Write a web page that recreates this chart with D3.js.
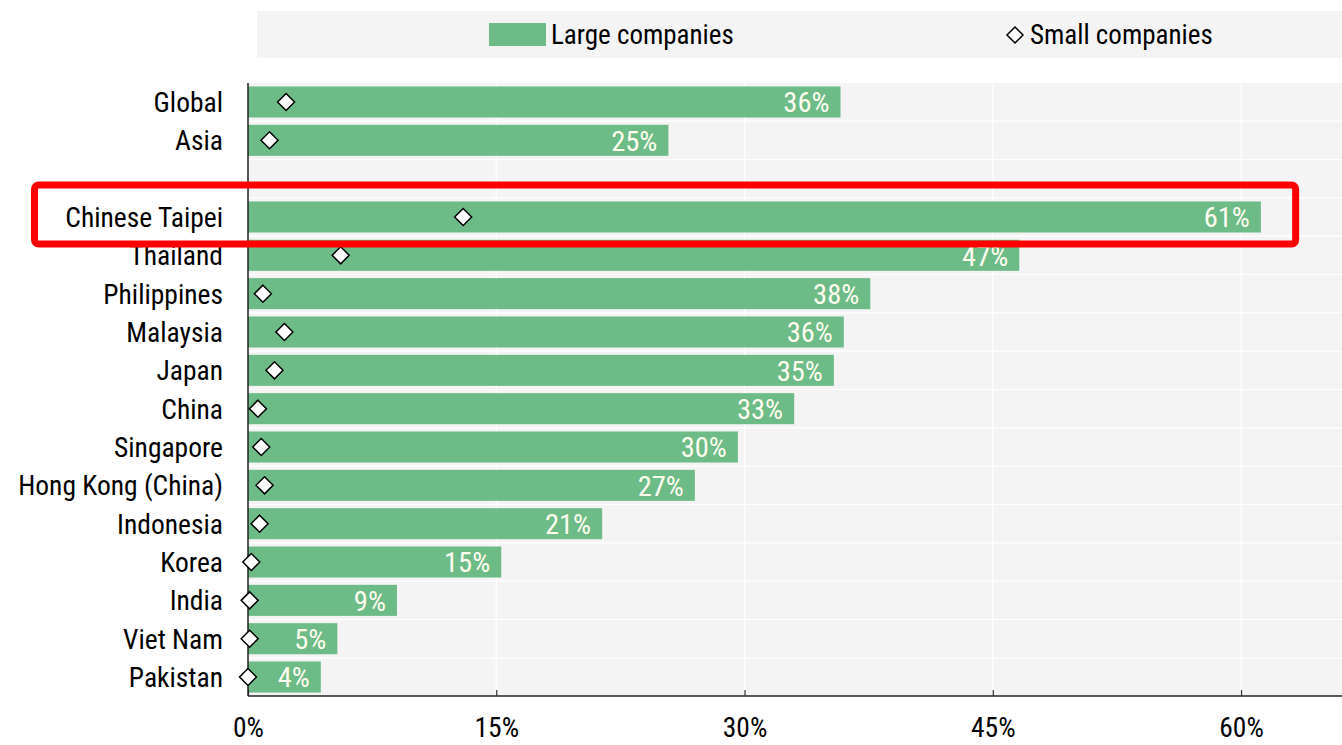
<!DOCTYPE html>
<html><head><meta charset="utf-8">
<script src="https://cdn.jsdelivr.net/npm/d3@7"></script>
<style>
html,body{margin:0;padding:0;background:#fff;}
svg{display:block;}
text{font-family:"Liberation Sans Narrow","Arial Narrow","Roboto Condensed","Liberation Sans",Arial,sans-serif;}
</style></head>
<body>
<script>
const categories = ["Global","Asia","","Chinese Taipei","Thailand","Philippines","Malaysia","Japan","China","Singapore","Hong Kong (China)","Indonesia","Korea","India","Viet Nam","Pakistan"];
const largeCompanies = [35.8,25.4,null,61.2,46.6,37.6,36.0,35.4,33.0,29.6,27.0,21.4,15.3,9.0,5.4,4.4];
const smallCompanies = [2.3,1.3,null,13.0,5.6,0.9,2.2,1.6,0.6,0.8,1.0,0.7,0.2,0.1,0.1,0.0];
const xTicks = [0,15,30,45,60];
const highlighted = "Chinese Taipei";

const W = 1342, H = 745;
const margin = {top:83, right:0, bottom:49, left:248};
const svg = d3.select("body").append("svg").attr("width",W).attr("height",H);

const x = d3.scaleLinear().domain([0, 66.1]).range([margin.left, W - margin.right]);
const y = d3.scaleBand().domain(categories.map((c,i)=>i)).range([margin.top, H - margin.bottom]).paddingInner(0.19).paddingOuter(0.09);

const green = "#6dbb87";
const fontCat = 27.5;

// legend
const lg = svg.append("g");
lg.append("rect").attr("x",257).attr("y",11).attr("width",W-257).attr("height",47).attr("fill","#f4f4f4");
lg.append("rect").attr("x",489).attr("y",23).attr("width",57).attr("height",23).attr("fill",green);
lg.append("text").attr("x",551).attr("y",35).attr("dy","0.35em").attr("font-size",27).attr("fill","#000").text("Large companies");
lg.append("path").attr("d","M1015,27 L1023,35 L1015,43 L1007,35 Z").attr("fill","#fff").attr("stroke","#000").attr("stroke-width",1.5);
lg.append("text").attr("x",1030).attr("y",35).attr("dy","0.35em").attr("font-size",27).attr("fill","#000").text("Small companies");

// plot background
svg.append("rect").attr("x",margin.left).attr("y",margin.top).attr("width",W-margin.left-margin.right).attr("height",H-margin.bottom-margin.top).attr("fill","#f4f4f4");

// gridlines
svg.append("g").selectAll("line").data(xTicks.slice(1)).join("line")
  .attr("x1",d=>x(d)).attr("x2",d=>x(d)).attr("y1",margin.top).attr("y2",H-margin.bottom)
  .attr("stroke","#fff").attr("stroke-width",1.2);
const step = y.step();
svg.append("g").selectAll("line").data(categories.map((c,i)=>i)).join("line")
  .attr("x1",margin.left).attr("x2",W)
  .attr("y1",d=>y(d)+y.bandwidth()+ (step-y.bandwidth())/2).attr("y2",d=>y(d)+y.bandwidth()+(step-y.bandwidth())/2)
  .attr("stroke","#fff").attr("stroke-width",1.2);

const rows = categories.map((c,i)=>({c,i,l:largeCompanies[i],s:smallCompanies[i]})).filter(d=>d.l!=null);

// bars
svg.append("g").selectAll("rect").data(rows).join("rect")
  .attr("x",x(0)).attr("y",d=>y(d.i)).attr("width",d=>x(d.l)-x(0)).attr("height",y.bandwidth()).attr("fill",green);

// bar labels
svg.append("g").selectAll("text").data(rows).join("text")
  .attr("x",d=>x(d.l)-11).attr("y",d=>y(d.i)+y.bandwidth()/2).attr("dy","0.36em")
  .attr("text-anchor","end").attr("font-size",28.5).attr("fill","#fffdf0")
  .text(d=>Math.round(d.l)+"%");

// axes
const xAxis = d3.axisBottom(x).tickValues(xTicks).tickSize(-6).tickPadding(20).tickFormat(d=>d+"%");
const gx = svg.append("g").attr("transform",`translate(0,${H-margin.bottom})`).call(xAxis);
gx.select(".domain").attr("stroke","#222").attr("stroke-width",1.5).attr("d",`M${margin.left},0H${W}`);
gx.selectAll(".tick line").attr("stroke","#333").attr("stroke-width",1.2);
gx.selectAll(".tick text").attr("font-size",27.5).attr("fill","#000").attr("dy","0.75em");

// left axis line
svg.append("line").attr("x1",x(0)).attr("x2",x(0)).attr("y1",margin.top).attr("y2",H-margin.bottom).attr("stroke","#222").attr("stroke-width",1.5);

// category labels
svg.append("g").selectAll("text").data(rows).join("text")
  .attr("x",223).attr("y",d=>y(d.i)+y.bandwidth()/2).attr("dy","0.36em")
  .attr("text-anchor","end").attr("font-size",fontCat).attr("fill","#000").text(d=>d.c);

// diamonds
const ds = 8.5;
svg.append("g").selectAll("path").data(rows).join("path")
  .attr("d",d=>{const cx=x(d.s), cy=y(d.i)+y.bandwidth()/2; return `M${cx},${cy-ds}L${cx+ds},${cy}L${cx},${cy+ds}L${cx-ds},${cy}Z`;})
  .attr("fill","#fff").attr("stroke","#000").attr("stroke-width",1.5);

// highlight box
const hi = categories.indexOf(highlighted);
const hy = y(hi)+y.bandwidth()/2;
svg.append("rect").attr("x",34.5).attr("y",hy-32).attr("width",x(63.3)-34.5).attr("height",59)
  .attr("rx",4).attr("fill","none").attr("stroke","#ff0000").attr("stroke-width",7);
</script>
</body></html>
